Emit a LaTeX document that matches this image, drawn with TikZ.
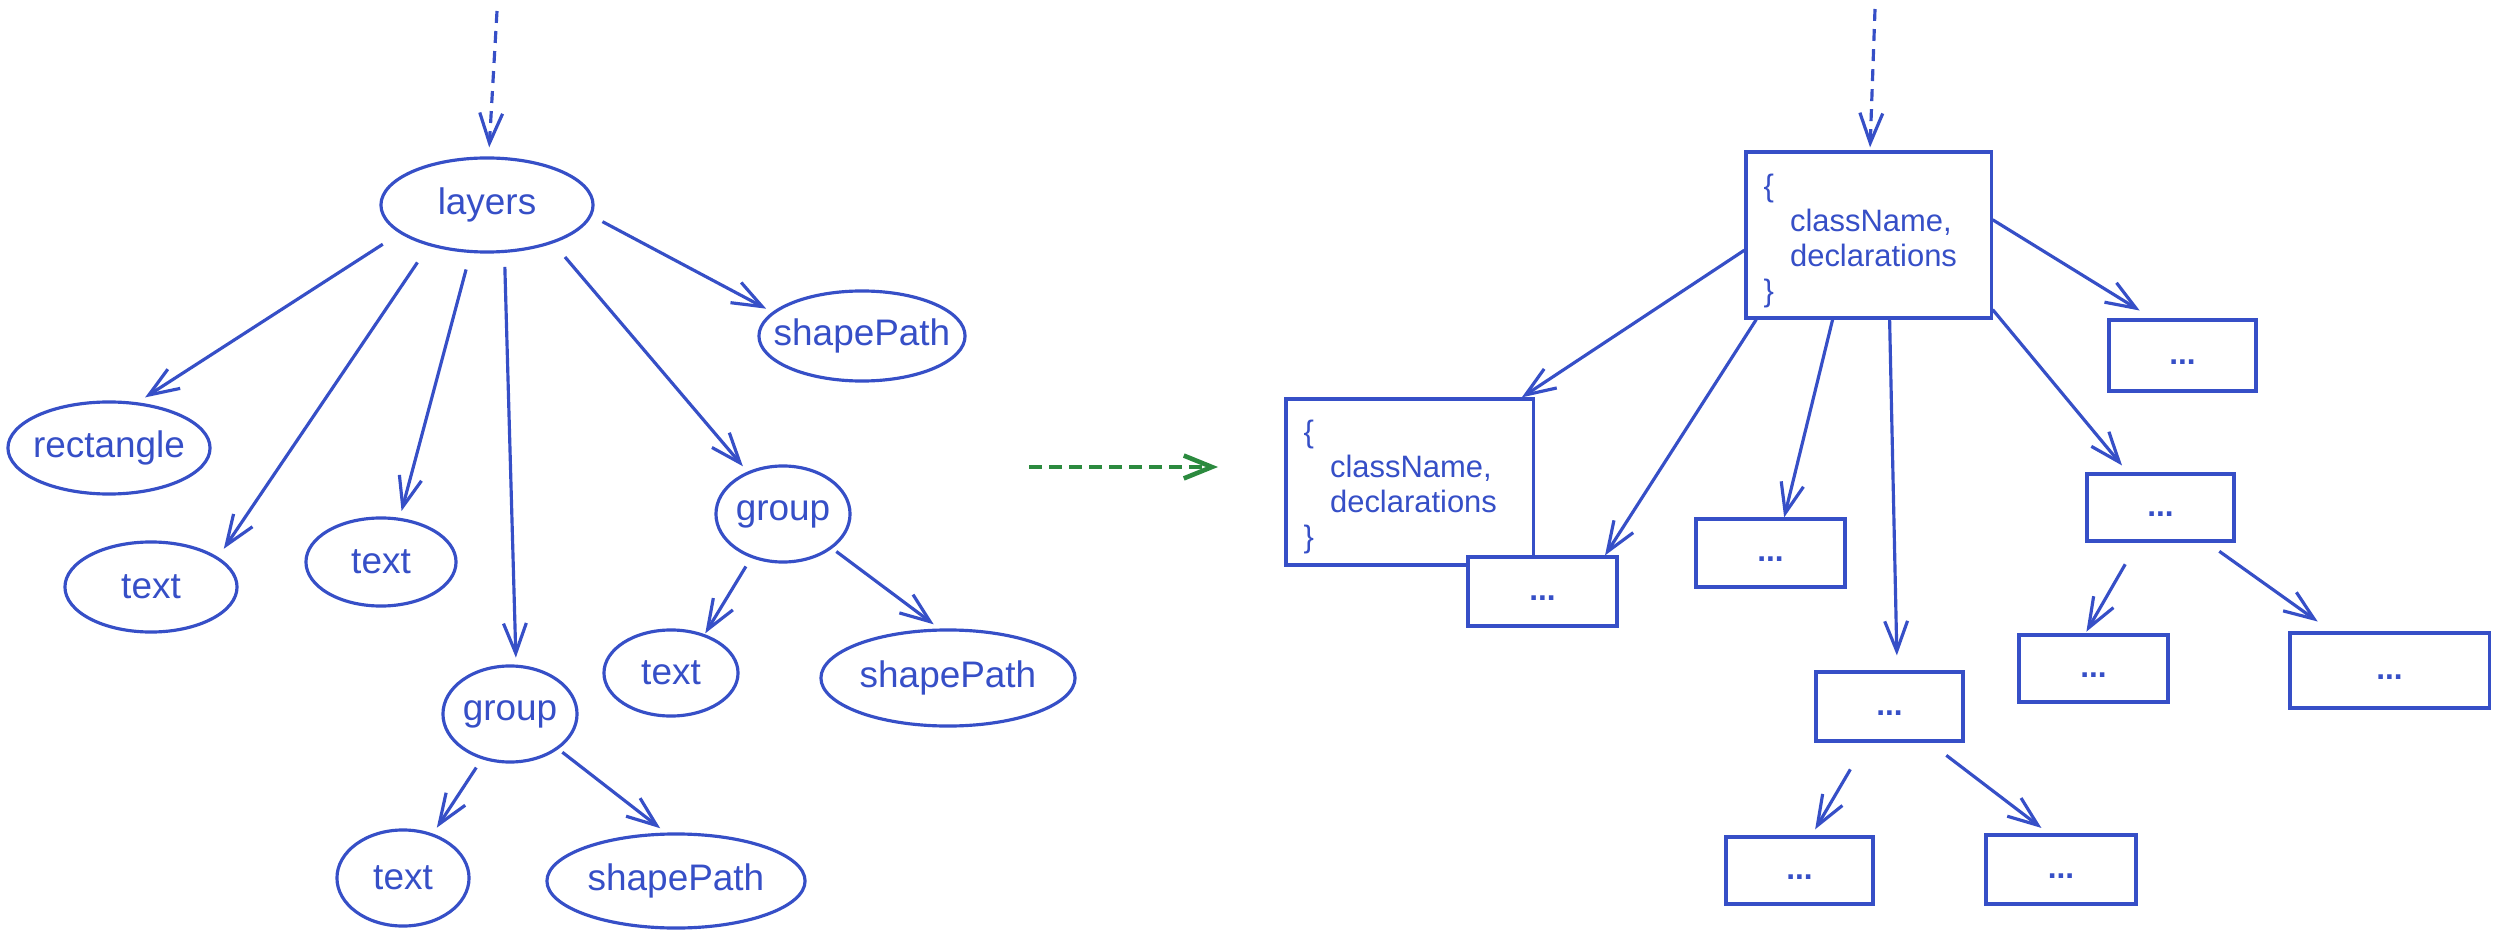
\documentclass[tikz,border=0pt]{standalone}
\usepackage{fontspec}
\setmainfont{Liberation Sans}
\usetikzlibrary{arrows.meta,shapes.geometric}
\definecolor{ink}{RGB}{54,79,199}
\definecolor{grn}{RGB}{43,138,62}
\begin{document}
\begin{tikzpicture}[x=0.01cm,y=-0.01cm,
  every node/.style={text=ink},
  every label/.style={font=\fontsize{10.5}{12}\selectfont,inner sep=0pt,text=ink},
  ell/.style={ellipse,draw=ink,line width=0.9pt,inner sep=0pt},
  bx/.style={rectangle,draw=ink,fill=white,line width=0.9pt,inner sep=0pt,
    font=\fontsize{9}{10}\selectfont\bfseries,text height=5pt,text depth=0pt},
  boxtxt/.style={align=left,inner sep=0pt,anchor=north west,
    font=\fontsize{8.8}{10}\selectfont},
  arr/.style={draw=ink,line width=0.9pt,-{Straight Barb[length=8.5pt,width=6.5pt]},
    shorten <=0.14cm,shorten >=0.07cm},
  barr/.style={draw=ink,line width=0.9pt,-{Straight Barb[length=8.5pt,width=6.5pt]}},
  dsh/.style={barr,dash pattern=on 3.4pt off 2.3pt},
  gdsh/.style={draw=grn,line width=1.15pt,dash pattern=on 3.7pt off 2pt,
    -{Straight Barb[length=8pt,width=6.5pt,line width=1.3pt]}}
]
\fill[white] (0,0) rectangle (2500,937);
\useasboundingbox (0,0) rectangle (2500,937);

% ---------------- left tree ----------------
\node[ell,minimum width=2.12cm,minimum height=0.94cm,label=center:layers] (layers) at (487,205) {};
\node[ell,minimum width=2.06cm,minimum height=0.90cm,label=center:shapePath] (shapeT) at (862,336) {};
\node[ell,minimum width=2.02cm,minimum height=0.92cm,label=center:rectangle] (rect) at (109,448) {};
\node[ell,minimum width=1.72cm,minimum height=0.90cm,label=center:text] (textL) at (151,587) {};
\node[ell,minimum width=1.50cm,minimum height=0.88cm,label=center:text] (textM) at (381,562) {};
\node[ell,minimum width=1.34cm,minimum height=0.96cm,label=center:group] (groupR) at (783,514) {};
\node[ell,minimum width=1.34cm,minimum height=0.86cm,label=center:text] (textS) at (671,673) {};
\node[ell,minimum width=2.54cm,minimum height=0.96cm,label=center:shapePath] (shapeBR) at (948,678) {};
\node[ell,minimum width=1.34cm,minimum height=0.96cm,label=center:group] (groupB) at (510,714) {};
\node[ell,minimum width=1.32cm,minimum height=0.96cm,label=center:text] (textB) at (403,878) {};
\node[ell,minimum width=2.58cm,minimum height=0.94cm,label=center:shapePath] (shapeB) at (676,881) {};

\coordinate (inL) at (497,11);
\draw[dsh,shorten >=0.09cm] (inL) -- (layers.88);

\draw[arr,shorten <=0.2cm,shorten >=0.09cm] (layers.198) -- (rect.58);
\draw[arr,shorten <=0.2cm,shorten >=0.1cm] (layers.215) -- (textL.24);
\draw[arr,shorten <=0.17cm] (layers.251) -- (textM.67);
\draw[arr,shorten <=0.14cm] (layers.290) -- (groupB.83);
\draw[arr,shorten <=0.18cm] (layers.330) -- (groupR.130);
\draw[arr,shorten <=0.12cm] (layers.354) -- (shapeT.165);
\draw[arr,shorten <=0.1cm,shorten >=0.01cm] (groupR.234) -- (textS.49);
\draw[arr,shorten <=0.05cm] (groupR.325) -- (shapeBR.100);
\draw[arr,shorten <=0.1cm] (groupB.238) -- (textB.56);
\draw[arr,shorten <=0.05cm] (groupB.324) -- (shapeB.102);

% ---------------- transition arrow ----------------
\coordinate (gS) at (1029,467);
\coordinate (gE) at (1218,467);
\draw[gdsh] (gS) -- (gE);

% ---------------- right tree ----------------
\node[bx,minimum width=2.45cm,minimum height=1.66cm] (T) at (1868.5,235) {};
\node[boxtxt] (Ttxt) at (1763,173) {\{\\\hspace*{7.5pt}className,\\\hspace*{7.5pt}declarations\\\}};
\node[bx,minimum width=1.47cm,minimum height=0.71cm] (A) at (2182.5,355.5) {...};
\node[bx,minimum width=2.47cm,minimum height=1.66cm] (B) at (1409.5,482) {};
\node[boxtxt] (Btxt) at (1303,419) {\{\\\hspace*{7.5pt}className,\\\hspace*{7.5pt}declarations\\\}};
\node[bx,minimum width=1.49cm,minimum height=0.69cm] (C) at (1542.5,591.5) {...};
\node[bx,minimum width=1.49cm,minimum height=0.68cm] (D) at (1770.5,553) {...};
\node[bx,minimum width=1.47cm,minimum height=0.69cm] (E) at (1889.5,706.5) {...};
\node[bx,minimum width=1.47cm,minimum height=0.67cm] (F) at (2160.5,507.5) {...};
\node[bx,minimum width=1.49cm,minimum height=0.67cm] (G) at (2093.5,668.5) {...};
\node[bx,minimum width=1.99cm,minimum height=0.75cm] (H) at (2389.5,670.5) {...};
\node[bx,minimum width=1.47cm,minimum height=0.67cm] (I) at (1799.5,870.5) {...};
\node[bx,minimum width=1.50cm,minimum height=0.69cm] (J) at (2061,869.5) {...};

\coordinate (inR) at (1875,9);
\draw[dsh,shorten >=0.03cm] (inR) -- (T.89);

\draw[barr] (T.187) -- (B.37);
\draw[barr] (T.217) -- (C.30);
\draw[barr] (T.247) -- (D.69);
\draw[barr,shorten >=0.15cm] (T.284) -- (E.78);
\draw[barr,shorten >=0.09cm] (T.329) -- (F.133);
\draw[barr,shorten >=0.15cm] (T.7) -- (A.129);
\draw[barr,shorten <=0.25cm,shorten >=0.02cm] (F.237) -- (G.103);
\draw[barr,shorten <=0.15cm,shorten >=0.17cm] (F.323) -- (H.146);
\draw[barr,shorten <=0.31cm,shorten >=0.07cm] (E.237) -- (I.71);
\draw[barr,shorten <=0.21cm,shorten >=0.09cm] (E.318) -- (J.109);
\end{tikzpicture}
\end{document}
